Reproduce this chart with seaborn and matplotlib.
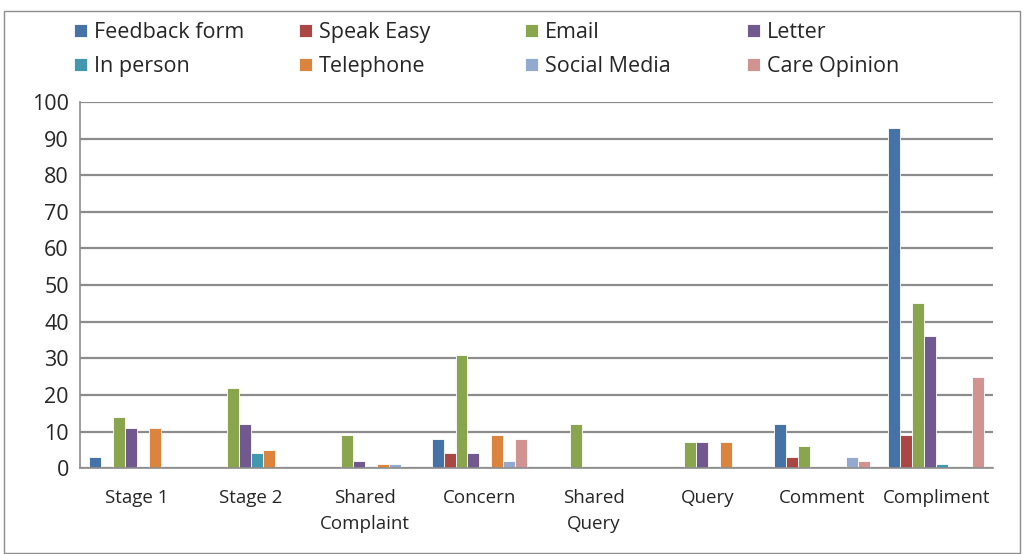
import numpy as np
import pandas as pd
import seaborn as sns
import matplotlib.pyplot as plt
from matplotlib.patches import Rectangle

categories = ["Stage 1", "Stage 2", "Shared\nComplaint", "Concern", "Shared\nQuery",
              "Query", "Comment", "Compliment"]
feedback_form = [3, 0, 0, 8, 0, 0, 12, 93]
speak_easy = [0, 0, 0, 4, 0, 0, 3, 9]
email = [14, 22, 9, 31, 12, 7, 6, 45]
letter = [11, 12, 2, 4, 0, 7, 0, 36]
in_person = [0, 4, 0, 0, 0, 0, 0, 1]
telephone = [11, 5, 1, 9, 0, 7, 0, 0]
social_media = [0, 0, 1, 2, 0, 0, 3, 0]
care_opinion = [0, 0, 0, 8, 0, 0, 2, 25]

series = {
    "Feedback form": feedback_form,
    "Speak Easy": speak_easy,
    "Email": email,
    "Letter": letter,
    "In person": in_person,
    "Telephone": telephone,
    "Social Media": social_media,
    "Care Opinion": care_opinion,
}
colors = ["#4572A7", "#AA4643", "#89A54E", "#71588F",
          "#4198AF", "#DB843D", "#93A9CF", "#D19392"]

rows = []
for name, vals in series.items():
    for cat, v in zip(categories, vals):
        rows.append({"category": cat, "source": name, "value": v})
df = pd.DataFrame(rows)

sns.set_style("white")
plt.rcParams["font.family"] = ["Open Sans", "DejaVu Sans"]

fig = plt.figure(figsize=(10.24, 5.54), dpi=100)
ax = fig.add_axes([0.078, 0.155, 0.892, 0.661])

sns.barplot(data=df, x="category", y="value", hue="source", order=categories,
            hue_order=list(series.keys()), palette=colors, width=0.84, saturation=1,
            edgecolor="white", linewidth=0.6, ax=ax, legend=True)

ax.set_ylim(0, 100)
ax.set_xlim(-0.5, len(categories) - 0.5)
ax.set_yticks(range(0, 101, 10))
ax.yaxis.grid(True, color="#8c8c8c", linewidth=1.6)
ax.set_axisbelow(True)
ax.set_xlabel("")
ax.set_ylabel("")

for side in ["top", "right"]:
    ax.spines[side].set_visible(False)
for side in ["left", "bottom"]:
    ax.spines[side].set_color("#8c8c8c")
    ax.spines[side].set_linewidth(1.2)

ax.tick_params(axis="y", labelsize=15.5, length=7, color="#8c8c8c", width=1.2, pad=1)
ax.tick_params(axis="x", which="major", labelsize=13.5, length=0, pad=15)
for lbl in ax.get_xticklabels():
    lbl.set_linespacing(1.55)
ax.set_xticks(np.arange(-0.5, len(categories)), minor=True)
ax.tick_params(axis="x", which="minor", length=8, color="#8c8c8c", width=1.2)

# legend: 4 columns at fixed positions, row-major order like the original
handles, labels = ax.get_legend_handles_labels()
ax.get_legend().remove()
col_x = [57, 282, 508, 730]
for c, x in enumerate(col_x):
    idx = [c, c + 4]
    fig.legend([handles[i] for i in idx], [labels[i] for i in idx],
               loc="upper left", bbox_to_anchor=(x / 1024, 0.991),
               frameon=False, fontsize=15.5, handlelength=0.6, handleheight=0.6,
               handletextpad=0.3, labelspacing=0.6, borderpad=0.3)

fig.patches.append(Rectangle((4 / 1024, 0.002), 1016 / 1024, 1 - 11 / 554 - 0.002,
                             transform=fig.transFigure, fill=False,
                             edgecolor="#8c8c8c", linewidth=1.0))

fig.savefig("out.png", dpi=100)
